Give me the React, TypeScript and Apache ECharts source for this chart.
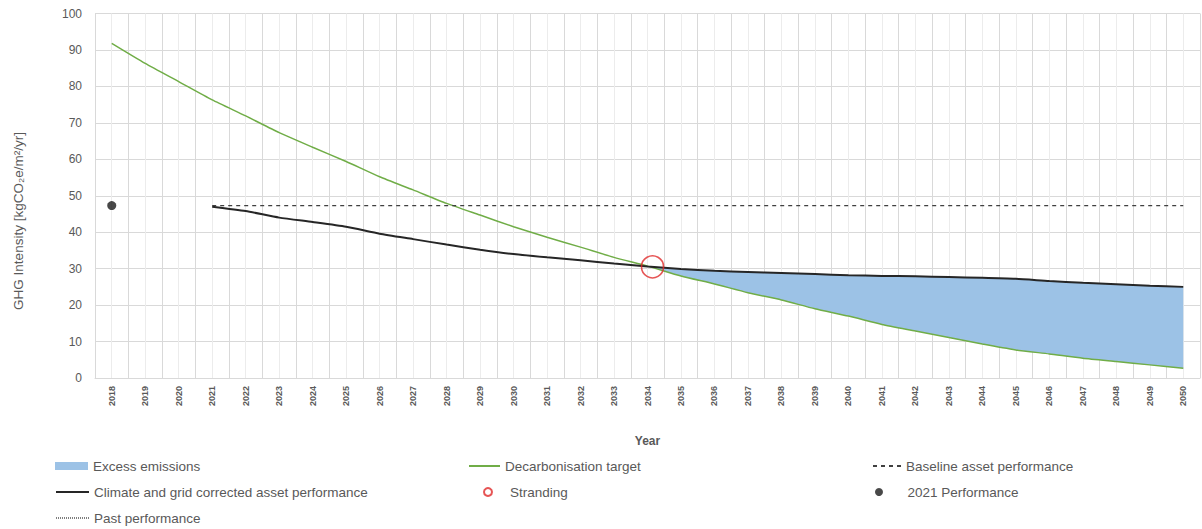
import React, { useEffect, useRef } from "react";
import * as echarts from "echarts";

const years = ["2018","2019","2020","2021","2022","2023","2024","2025","2026","2027","2028","2029","2030","2031","2032","2033","2034","2035","2036","2037","2038","2039","2040","2041","2042","2043","2044","2045","2046","2047","2048","2049","2050"];

const decarbonisationTarget = [91.8,86.3,81.3,76.3,71.9,67.3,63.3,59.4,55.2,51.6,47.9,44.7,41.5,38.6,35.9,33.1,30.7,28.0,25.8,23.4,21.4,19.0,17.0,14.7,12.9,11.1,9.3,7.7,6.6,5.4,4.5,3.6,2.7];

const correctedPerformance = [null,null,null,47.0,45.8,44.0,42.8,41.5,39.6,38.1,36.6,35.2,34.0,33.1,32.3,31.4,30.6,29.9,29.4,29.1,28.8,28.5,28.2,28.0,27.9,27.7,27.5,27.2,26.6,26.1,25.7,25.3,25.0];

const baselinePerformance = [null,null,null,47.3,47.3,47.3,47.3,47.3,47.3,47.3,47.3,47.3,47.3,47.3,47.3,47.3,47.3,47.3,47.3,47.3,47.3,47.3,47.3,47.3,47.3,47.3,47.3,47.3,47.3,47.3,47.3,47.3,47.3];

const performance2021 = [["2018", 47.3]];
const strandingPoint = [[2034.15, 30.5]];
const excessStartYear = "2034";

const yTicks = { min: 0, max: 100, interval: 10 };
const yAxisTitle = "GHG Intensity [kgCO₂e/m²/yr]";

export default function App() {
  const ref = useRef<HTMLDivElement>(null);
  useEffect(() => {
    if (!ref.current) return;
    document.body.style.margin = "0";
    const chart = echarts.init(ref.current, null, { renderer: "svg" });
    const startIdx = years.indexOf(excessStartYear);
    const base = decarbonisationTarget.map((v, i) => (i >= startIdx ? v : "-"));
    const excess = decarbonisationTarget.map((v, i) => {
      const c = correctedPerformance[i];
      if (i < startIdx || c == null) return "-";
      return Math.max(0, +(c - v).toFixed(2));
    });
    const firstYear = Number(years[0]) - 0.5;
    const font = "Liberation Sans";
    const grey = "#595959";
    const legendText = { fontSize: 13.5, color: grey, fontFamily: font };
    const noSym = { opacity: 0 };
    const mkLegend = (left: number, centerY: number, w: number, item: any) => ({
      left,
      top: centerY - 8,
      padding: 0,
      itemWidth: w,
      itemHeight: 8,
      itemGap: 4,
      textStyle: legendText,
      data: [item],
    });
    chart.setOption({
      animation: false,
      textStyle: { fontFamily: font },
      grid: { left: 95, right: 2, top: 13.5, bottom: 151, containLabel: false },
      graphic: [
        {
          type: "text",
          x: 18,
          y: 221,
          rotation: Math.PI / 2,
          style: {
            text: yAxisTitle,
            fontSize: 13.5,
            fontFamily: font,
            fill: grey,
            align: "center",
            verticalAlign: "middle",
          },
        },
      ],
      xAxis: [
        {
          type: "category",
          data: years,
          boundaryGap: true,
          name: "Year",
          nameLocation: "middle",
          nameGap: 57,
          nameTextStyle: { fontSize: 12, fontWeight: "bold", color: grey, fontFamily: font },
          axisLine: { show: true, lineStyle: { color: "#d9d9d9" } },
          axisTick: { show: false },
          splitLine: { show: false },
          axisLabel: { rotate: 90, fontSize: 9, fontWeight: "bold", color: grey, margin: 8, interval: 0 },
        },
        {
          type: "value",
          min: 0,
          max: years.length,
          interval: 1,
          position: "bottom",
          axisLine: { show: false },
          axisTick: { show: false },
          axisLabel: { show: false },
          splitLine: { show: true, lineStyle: { color: "#d9d9d9", width: 1 } },
          minorTick: { show: false, splitNumber: 2 },
          minorSplitLine: { show: true, lineStyle: { color: "#ececec", width: 1 } },
        },
      ],
      yAxis: {
        type: "value",
        min: yTicks.min,
        max: yTicks.max,
        interval: yTicks.interval,
        axisLine: { show: false },
        axisTick: { show: false },
        axisLabel: { fontSize: 12, color: grey, margin: 13 },
        splitLine: { show: true, lineStyle: { color: "#d9d9d9" } },
      },
      legend: [
        mkLegend(55, 467, 33, { name: "Excess emissions", icon: "rect" }),
        mkLegend(55, 493, 33, { name: "Climate and grid corrected asset performance", itemStyle: noSym }),
        mkLegend(55, 519, 33, { name: "Past performance", itemStyle: noSym }),
        mkLegend(468, 467, 31, { name: "Decarbonisation target", itemStyle: noSym }),
        mkLegend(483, 493, 34, { name: "Stranding" }),
        mkLegend(872, 467, 28, { name: "Baseline asset performance", itemStyle: noSym }),
        mkLegend(875, 493, 47, { name: "2021 Performance" }),
      ],
      series: [
        {
          name: "base",
          type: "line",
          stack: "excess",
          data: base,
          symbol: "none",
          lineStyle: { opacity: 0, width: 0 },
          silent: true,
        },
        {
          name: "Excess emissions",
          type: "line",
          stack: "excess",
          data: excess,
          symbol: "none",
          lineStyle: { opacity: 0, width: 0 },
          itemStyle: { color: "#9cc2e6" },
          areaStyle: { color: "#9cc2e6", opacity: 1 },
        },
        {
          name: "Decarbonisation target",
          type: "line",
          data: decarbonisationTarget,
          symbol: "none",
          smooth: 0.2,
          lineStyle: { color: "#70ad47", width: 1.5 },
          itemStyle: { color: "#70ad47" },
        },
        {
          name: "Baseline asset performance",
          type: "line",
          data: baselinePerformance,
          symbol: "none",
          lineStyle: { color: "#404040", width: 1.3, type: [4, 4] },
          itemStyle: { color: "#404040" },
        },
        {
          name: "Climate and grid corrected asset performance",
          type: "line",
          data: correctedPerformance,
          symbol: "none",
          smooth: 0.2,
          lineStyle: { color: "#262626", width: 2 },
          itemStyle: { color: "#262626" },
        },
        {
          name: "Past performance",
          type: "line",
          data: [],
          symbol: "none",
          lineStyle: { color: "#7f7f7f", width: 1.3, type: [1, 1] },
          itemStyle: { color: "#7f7f7f" },
        },
        {
          name: "2021 Performance",
          type: "scatter",
          data: performance2021,
          symbol: "circle",
          symbolSize: 9,
          itemStyle: { color: "#1a1a1a" },
        },
        {
          name: "Stranding",
          type: "scatter",
          xAxisIndex: 1,
          data: strandingPoint.map(([y, v]) => [y - firstYear, v]),
          symbol: "circle",
          symbolSize: 22,
          itemStyle: { color: "rgba(0,0,0,0)", borderColor: "#e02b2b", borderWidth: 1.6 },
          z: 5,
        },
      ],
    });
    return () => chart.dispose();
  }, []);
  return <div ref={ref} style={{ width: 1202, height: 529 }} />;
}
